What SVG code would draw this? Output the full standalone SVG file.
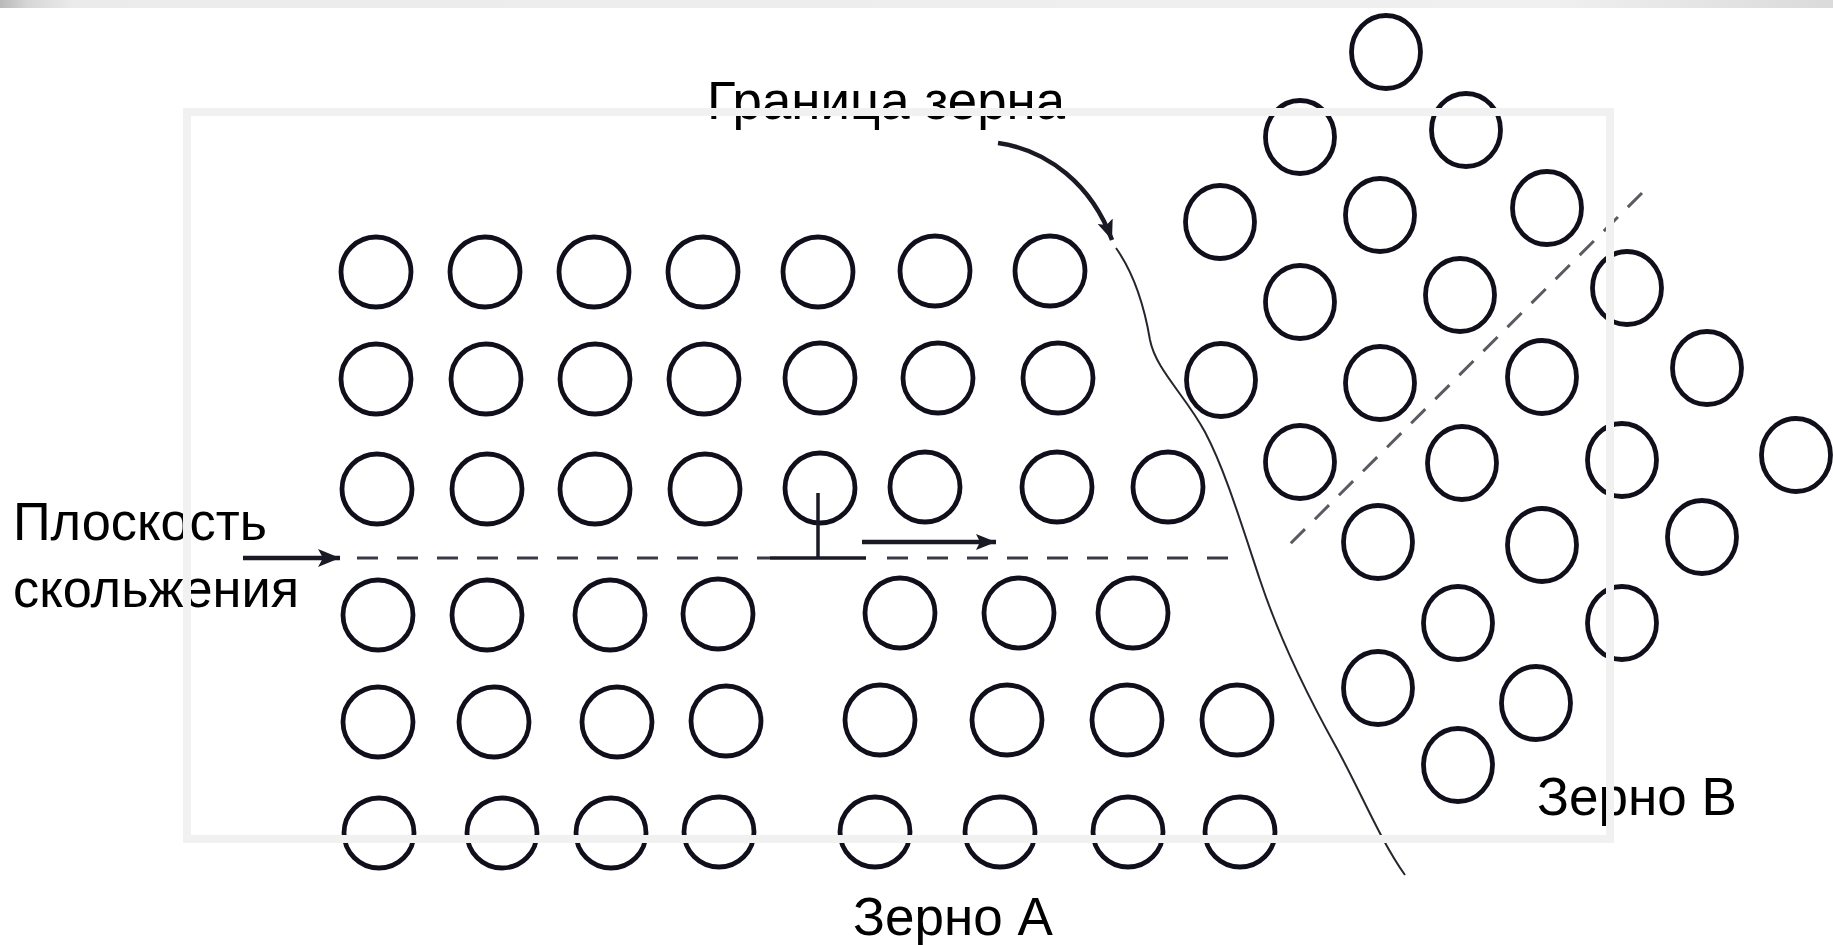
<svg xmlns="http://www.w3.org/2000/svg" width="1833" height="945" viewBox="0 0 1833 945">
  <style>
    .atom { fill: none; stroke: #10101c; stroke-width: 4.8; }
    .label { font-family: "Liberation Sans", Arial, sans-serif; font-size: 53px; fill: #000; }
    .arrow { fill: none; stroke: #1a1a24; stroke-width: 4.5; }
    .slip { fill: none; stroke: #3a3a44; stroke-width: 3; stroke-dasharray: 21 19; }
    .boundary { fill: none; stroke: #25252d; stroke-width: 2; }
    .plane-b { fill: none; stroke: #5a5a62; stroke-width: 3; stroke-dasharray: 20 14; }
    .frame { fill: none; stroke: #f1f1f1; stroke-width: 8; }
  </style>
  <defs>
    <marker id="head" markerUnits="userSpaceOnUse" markerWidth="26" markerHeight="20" refX="22" refY="10" orient="auto">
      <path d="M0,1 L22,10 L0,19 L5,10 Z" fill="#1a1a24"/>
    </marker>
    <marker id="head-thin" markerUnits="userSpaceOnUse" markerWidth="24" markerHeight="20" refX="20" refY="10" orient="auto">
      <path d="M0,2 L20,10 L0,18 L4,10 Z" fill="#1a1a24"/>
    </marker>
    <linearGradient id="topbar" x1="0" y1="0" x2="1" y2="0">
      <stop offset="0" stop-color="#b9b9b9"/>
      <stop offset="0.015" stop-color="#d6d6d6"/>
      <stop offset="0.04" stop-color="#ebebeb"/>
      <stop offset="0.85" stop-color="#f0f0f0"/>
      <stop offset="1" stop-color="#dadada"/>
    </linearGradient>
  </defs>

  <rect x="0" y="0" width="1833" height="945" fill="#ffffff"/>
  <rect x="0" y="0" width="1833" height="8" fill="url(#topbar)"/>

  <!-- grain A: square lattice with an edge dislocation -->
  <g id="grain-a">
    <circle class="atom" cx="376" cy="272" r="35"/>
    <circle class="atom" cx="485" cy="272" r="35"/>
    <circle class="atom" cx="594" cy="272" r="35"/>
    <circle class="atom" cx="703" cy="272" r="35"/>
    <circle class="atom" cx="818" cy="272" r="35"/>
    <circle class="atom" cx="935" cy="271" r="35"/>
    <circle class="atom" cx="1050" cy="271" r="35"/>

    <circle class="atom" cx="376" cy="379" r="35"/>
    <circle class="atom" cx="486" cy="379" r="35"/>
    <circle class="atom" cx="595" cy="379" r="35"/>
    <circle class="atom" cx="704" cy="379" r="35"/>
    <circle class="atom" cx="820" cy="378" r="35"/>
    <circle class="atom" cx="938" cy="378" r="35"/>
    <circle class="atom" cx="1058" cy="378" r="35"/>

    <circle class="atom" cx="377" cy="489" r="35"/>
    <circle class="atom" cx="487" cy="489" r="35"/>
    <circle class="atom" cx="595" cy="489" r="35"/>
    <circle class="atom" cx="705" cy="489" r="35"/>
    <circle class="atom" cx="820" cy="488" r="35"/>
    <circle class="atom" cx="925" cy="487" r="35"/>
    <circle class="atom" cx="1057" cy="487" r="35"/>
    <circle class="atom" cx="1168" cy="487" r="35"/>

    <circle class="atom" cx="378" cy="615" r="35"/>
    <circle class="atom" cx="487" cy="615" r="35"/>
    <circle class="atom" cx="610" cy="615" r="35"/>
    <circle class="atom" cx="718" cy="614" r="35"/>
    <circle class="atom" cx="900" cy="613" r="35"/>
    <circle class="atom" cx="1019" cy="613" r="35"/>
    <circle class="atom" cx="1133" cy="613" r="35"/>

    <circle class="atom" cx="378" cy="722" r="35"/>
    <circle class="atom" cx="494" cy="722" r="35"/>
    <circle class="atom" cx="617" cy="722" r="35"/>
    <circle class="atom" cx="726" cy="721" r="35"/>
    <circle class="atom" cx="880" cy="720" r="35"/>
    <circle class="atom" cx="1007" cy="720" r="35"/>
    <circle class="atom" cx="1127" cy="720" r="35"/>
    <circle class="atom" cx="1237" cy="720" r="35"/>

    <circle class="atom" cx="379" cy="833" r="35"/>
    <circle class="atom" cx="502" cy="833" r="35"/>
    <circle class="atom" cx="611" cy="833" r="35"/>
    <circle class="atom" cx="719" cy="832" r="35"/>
    <circle class="atom" cx="875" cy="832" r="35"/>
    <circle class="atom" cx="1000" cy="832" r="35"/>
    <circle class="atom" cx="1128" cy="832" r="35"/>
    <circle class="atom" cx="1240" cy="832" r="35"/>
  </g>

  <!-- grain B: lattice rotated by about 45 degrees -->
  <g id="grain-b">
    <ellipse class="atom" cx="1386" cy="52" rx="34.5" ry="36.5"/>
    <ellipse class="atom" cx="1300" cy="137" rx="34.5" ry="36.5"/>
    <ellipse class="atom" cx="1466" cy="130" rx="34.5" ry="36.5"/>
    <ellipse class="atom" cx="1220" cy="222" rx="34.5" ry="36.5"/>
    <ellipse class="atom" cx="1380" cy="215" rx="34.5" ry="36.5"/>
    <ellipse class="atom" cx="1547" cy="208" rx="34.5" ry="36.5"/>
    <ellipse class="atom" cx="1300" cy="302" rx="34.5" ry="36.5"/>
    <ellipse class="atom" cx="1460" cy="295" rx="34.5" ry="36.5"/>
    <ellipse class="atom" cx="1627" cy="288" rx="34.5" ry="36.5"/>
    <ellipse class="atom" cx="1221" cy="380" rx="34.5" ry="36.5"/>
    <ellipse class="atom" cx="1380" cy="383" rx="34.5" ry="36.5"/>
    <ellipse class="atom" cx="1542" cy="377" rx="34.5" ry="36.5"/>
    <ellipse class="atom" cx="1707" cy="368" rx="34.5" ry="36.5"/>
    <ellipse class="atom" cx="1300" cy="462" rx="34.5" ry="36.5"/>
    <ellipse class="atom" cx="1462" cy="463" rx="34.5" ry="36.5"/>
    <ellipse class="atom" cx="1622" cy="460" rx="34.5" ry="36.5"/>
    <ellipse class="atom" cx="1796" cy="455" rx="34.5" ry="36.5"/>
    <ellipse class="atom" cx="1378" cy="542" rx="34.5" ry="36.5"/>
    <ellipse class="atom" cx="1542" cy="545" rx="34.5" ry="36.5"/>
    <ellipse class="atom" cx="1702" cy="537" rx="34.5" ry="36.5"/>
    <ellipse class="atom" cx="1458" cy="623" rx="34.5" ry="36.5"/>
    <ellipse class="atom" cx="1622" cy="623" rx="34.5" ry="36.5"/>
    <ellipse class="atom" cx="1378" cy="688" rx="34.5" ry="36.5"/>
    <ellipse class="atom" cx="1536" cy="703" rx="34.5" ry="36.5"/>
    <ellipse class="atom" cx="1458" cy="765" rx="34.5" ry="36.5"/>
  </g>

  <!-- connectors: slip plane, dislocation, boundary, pointers -->
  <g id="connectors">
    <line class="arrow" x1="243" y1="558" x2="340" y2="558" marker-end="url(#head)"/>
    <line class="slip" x1="357" y1="558" x2="770" y2="558"/>
    <line x1="770" y1="558" x2="866" y2="558" stroke="#1a1a24" stroke-width="3.5"/>
    <line x1="818" y1="493" x2="818" y2="558" stroke="#1a1a24" stroke-width="3.5"/>
    <line class="slip" x1="887" y1="558" x2="1234" y2="558"/>
    <line class="arrow" x1="862" y1="542" x2="996" y2="542" marker-end="url(#head-thin)"/>
    <path class="arrow" d="M998,143 C1048,150 1092,185 1112,240" stroke-width="3.2" marker-end="url(#head-thin)"/>
    <path class="boundary" d="M1116,248 C1135,275 1145,310 1150,340 C1156,370 1185,395 1205,432 C1225,470 1240,520 1260,580 C1280,640 1310,700 1335,745 C1360,790 1380,840 1405,875"/>
    <line class="plane-b" x1="1642" y1="193" x2="1285" y2="549"/>
  </g>

  <g id="labels">
    <text class="label" x="707" y="119" textLength="358" lengthAdjust="spacingAndGlyphs">Граница зерна</text>
    <text class="label" x="13" y="540" textLength="254" lengthAdjust="spacingAndGlyphs">Плоскость</text>
    <text class="label" x="13" y="607" textLength="286" lengthAdjust="spacingAndGlyphs">скольжения</text>
    <text class="label" x="853" y="935">Зерно А</text>
    <text class="label" x="1537" y="815">Зерно В</text>
  </g>

  <!-- pale border band lying over the drawing -->
  <rect class="frame" x="187" y="112" width="1423" height="727"/>
</svg>
